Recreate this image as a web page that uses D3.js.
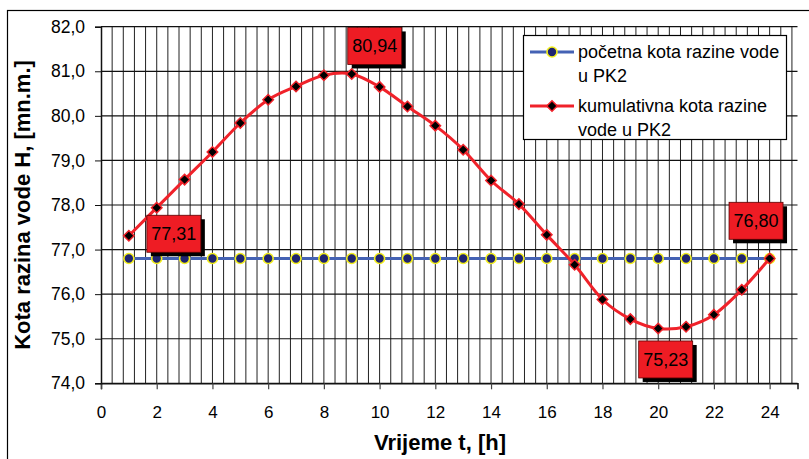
<!DOCTYPE html>
<html>
<head>
<meta charset="utf-8">
<script src="https://cdn.jsdelivr.net/npm/d3@7"></script>
<style>
  body { margin: 0; background: #fff; }
  svg { display: block; font-family: Arial, "Liberation Sans", sans-serif; }
</style>
</head>
<body>
<div id="chart"></div>
<script>
// hours
var hours = d3.range(1, 25);
// početna kota razine vode u PK2
var initialLevel = hours.map(function() { return 76.80; });
// kumulativna kota razine vode u PK2
var cumulativeLevel = [77.31, 77.94, 78.57, 79.19, 79.84, 80.36, 80.66, 80.91, 80.94, 80.65,
  80.21, 79.78, 79.24, 78.55, 78.02, 77.33, 76.66, 75.88, 75.44, 75.23, 75.27, 75.54, 76.10, 76.80];
var xTicks = d3.range(0, 25, 2);
var yTicks = d3.range(74, 82.01, 1);
var seriesNames = [["početna kota razine vode", "u PK2"], ["kumulativna kota razine", "vode u PK2"]];
// which points get a value box
var labelIdx = [0, 8, 19, 23];

var W = 809, H = 459;
var svg = d3.select("#chart").append("svg")
  .attr("width", W).attr("height", H);

// chart border (right/bottom cut off like the original)
svg.append("rect")
  .attr("x", 7.5).attr("y", 10.5)
  .attr("width", 820).attr("height", 470)
  .attr("fill", "#fff").attr("stroke", "#000").attr("stroke-width", 1.2);

var x = d3.scaleLinear().domain([0, 25]).range([101, 797.5]);
var y = d3.scaleLinear().domain([74, 82]).range([383.3, 26.7]);

var plot = svg.append("g");
plot.append("rect")
  .attr("x", x(0)).attr("y", y(82))
  .attr("width", x(25) - x(0)).attr("height", y(74) - y(82))
  .attr("fill", "#fff");

// vertical grid every 0.4 h
var vGrid = d3.range(1, 63).map(function(i) { return i * 0.4; });
plot.selectAll(".vgrid").data(vGrid).enter().append("line")
  .attr("class", "vgrid")
  .attr("x1", function(d) { return x(d); }).attr("x2", function(d) { return x(d); })
  .attr("y1", y(82)).attr("y2", y(74))
  .attr("stroke", "#222").attr("stroke-width", 1);

// horizontal grid
plot.selectAll(".hgrid").data(yTicks).enter().append("line")
  .attr("class", "hgrid")
  .attr("x1", x(0)).attr("x2", x(25))
  .attr("y1", function(d) { return y(d); }).attr("y2", function(d) { return y(d); })
  .attr("stroke", "#111").attr("stroke-width", 1.2);

// axes
var xAxis = d3.axisBottom(x).tickValues(xTicks).tickSize(6).tickPadding(17)
  .tickFormat(d3.format("d"));
var gx = svg.append("g").attr("transform", "translate(0," + y(74) + ")").call(xAxis);
gx.select(".domain").attr("stroke", "#111").attr("stroke-width", 1.5);
gx.selectAll(".tick line").attr("stroke", "#444").attr("stroke-width", 1.2);
gx.selectAll("text").attr("font-size", 17).attr("fill", "#000");

var yAxis = d3.axisLeft(y).tickValues(yTicks).tickSize(6).tickPadding(10)
  .tickFormat(function(d) { return d3.format(".1f")(d).replace(".", ","); });
var gy = svg.append("g").attr("transform", "translate(" + x(0) + ",0)").call(yAxis);
gy.select(".domain").attr("stroke", "#111").attr("stroke-width", 1.5);
gy.selectAll(".tick line").attr("stroke", "#111");
gy.selectAll("text").attr("font-size", 17.5).attr("fill", "#000");

// axis titles
svg.append("text")
  .attr("x", 440).attr("y", 450)
  .attr("text-anchor", "middle")
  .attr("font-size", 22).attr("font-weight", "bold")
  .text("Vrijeme t, [h]");
svg.append("text")
  .attr("transform", "translate(30," + ((y(74) + y(82)) / 2) + ") rotate(-90)")
  .attr("text-anchor", "middle")
  .attr("font-size", 22).attr("font-weight", "bold")
  .text("Kota razina vode H, [mn.m.]");

// series
var blueLine = d3.line()
  .x(function(d, i) { return x(hours[i]); })
  .y(function(d) { return y(d); });
var redLine = d3.line()
  .x(function(d, i) { return x(hours[i]); })
  .y(function(d) { return y(d); })
  .curve(d3.curveCardinal.tension(0));

plot.append("path").datum(initialLevel)
  .attr("d", blueLine)
  .attr("fill", "none").attr("stroke", "#4462b4").attr("stroke-width", 3);
plot.selectAll(".bdot").data(initialLevel).enter().append("circle")
  .attr("class", "bdot")
  .attr("cx", function(d, i) { return x(hours[i]); })
  .attr("cy", function(d) { return y(d); })
  .attr("r", 5)
  .attr("fill", "#1f2470").attr("stroke", "#f2ee1c").attr("stroke-width", 1.6);

plot.append("path").datum(cumulativeLevel)
  .attr("d", redLine)
  .attr("fill", "none").attr("stroke", "#f0222a").attr("stroke-width", 3);
var diamond = d3.symbol().type(d3.symbolDiamond2).size(70);
plot.selectAll(".rdot").data(cumulativeLevel).enter().append("path")
  .attr("class", "rdot")
  .attr("transform", function(d, i) { return "translate(" + x(hours[i]) + "," + y(d) + ")"; })
  .attr("d", diamond)
  .attr("fill", "#000").attr("stroke", "#f0222a").attr("stroke-width", 1.5);

// value boxes
var labelOffsets = [[45, -2], [23, -28], [7.5, 31], [-13.6, -37.7]];
var bw = 54, bh = 37;
labelIdx.forEach(function(idx, k) {
  var cx = x(hours[idx]) + labelOffsets[k][0];
  var cy = y(cumulativeLevel[idx]) + labelOffsets[k][1];
  var g = svg.append("g").attr("transform", "translate(" + (cx - bw / 2) + "," + (cy - bh / 2) + ")");
  g.append("rect").attr("x", 4).attr("y", 4).attr("width", bw).attr("height", bh).attr("fill", "#000");
  g.append("rect").attr("width", bw).attr("height", bh)
    .attr("fill", "#ee1c24").attr("stroke", "#5a0000").attr("stroke-width", 0.8);
  g.append("text").attr("x", bw / 2).attr("y", bh / 2 + 6.5)
    .attr("text-anchor", "middle").attr("font-size", 18).attr("fill", "#000")
    .text(d3.format(".2f")(cumulativeLevel[idx]).replace(".", ","));
});

// legend
var lg = svg.append("g");
lg.append("rect").attr("x", 523.5).attr("y", 35.5).attr("width", 263).attr("height", 104)
  .attr("fill", "#fff").attr("stroke", "#000").attr("stroke-width", 1.2);
var legendRows = [52, 106];
seriesNames.forEach(function(lines, i) {
  var ly = legendRows[i];
  lg.append("line").attr("x1", 530).attr("x2", 574).attr("y1", ly).attr("y2", ly)
    .attr("stroke", i === 0 ? "#4462b4" : "#f0222a").attr("stroke-width", 3);
  if (i === 0) {
    lg.append("circle").attr("cx", 552).attr("cy", ly).attr("r", 5)
      .attr("fill", "#1f2470").attr("stroke", "#f2ee1c").attr("stroke-width", 1.6);
  } else {
    lg.append("path").attr("transform", "translate(552," + ly + ")").attr("d", diamond)
      .attr("fill", "#000").attr("stroke", "#f0222a").attr("stroke-width", 1.5);
  }
  lines.forEach(function(t, j) {
    lg.append("text").attr("x", 578).attr("y", ly + 6 + j * 23.5)
      .attr("font-size", 18).attr("fill", "#000").text(t);
  });
});
</script>
</body>
</html>
